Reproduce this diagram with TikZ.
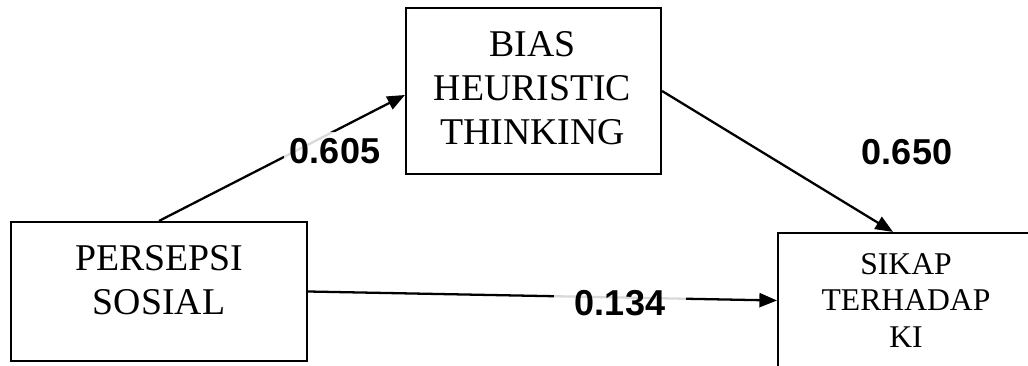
\documentclass[tikz,border=0pt]{standalone}
\usepackage{fontspec}
\setmainfont{Liberation Serif}
\newfontfamily\coeffont{Liberation Sans}
\usetikzlibrary{arrows.meta, calc}

\begin{document}
\begin{tikzpicture}[
    box/.style={draw, line width=1.2pt, rectangle},
    boxtext/.style={align=center, font=\fontsize{21.5}{25}\selectfont},
    arr/.style={line width=1.3pt, -{Triangle[length=10pt,width=8pt]}},
    coef/.style={font=\coeffont\bfseries\fontsize{20.5}{24}\selectfont,
                 fill=white, fill opacity=0.85, text opacity=1}
]
\useasboundingbox (0,0) rectangle (20.56,7.30);
\clip (0,0) rectangle (20.56,7.30);
% Boxes
\node[box, minimum width=5.92cm, minimum height=2.78cm] (persepsi) at (3.18,1.47) {};
\node[box, minimum width=5.10cm, minimum height=3.32cm] (bias) at (10.67,5.48) {};
\node[box, minimum width=5.12cm, minimum height=2.70cm] (sikap) at (18.12,1.29) {};
% Box texts
\node[boxtext] (persepsitxt) at (3.18,1.70) {PERSEPSI\\SOSIAL};
\node[boxtext] (biastxt) at (10.65,5.53) {BIAS\\HEURISTIC\\THINKING};
\node[boxtext, font=\fontsize{18}{21}\selectfont] (sikaptxt) at (18.12,1.29) {SIKAP\\TERHADAP\\KI};
% Paths
\draw[arr] (persepsi.north) -- ($(bias.west)+(0,-0.08)$);
\draw[arr] (bias.east) -- ($(sikap.north)+(-0.26,0)$);
\draw[arr] (persepsi.east) -- (sikap.west);
% Coefficients
\node[coef] (c605) at (6.70,4.28) {0.605};
\node[coef] (c650) at (18.14,4.26) {0.650};
\node[coef, inner xsep=12pt, inner ysep=2pt] (c134) at (12.40,1.24) {0.134};
\end{tikzpicture}
\end{document}
